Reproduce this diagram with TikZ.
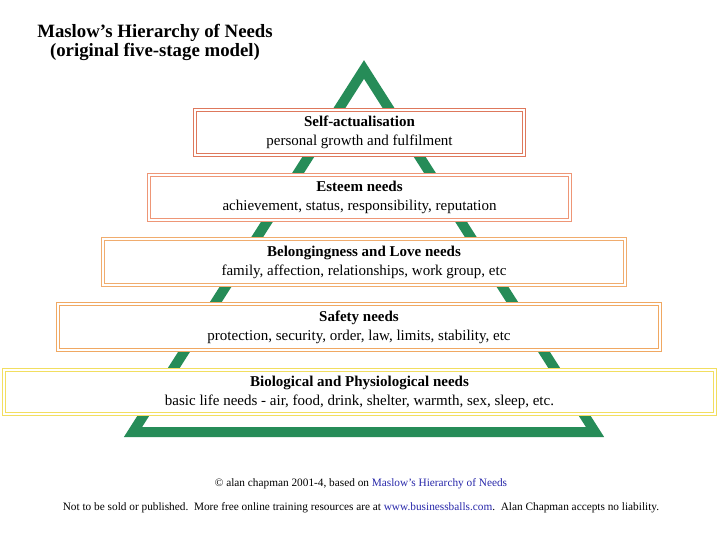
\documentclass[tikz,border=0pt]{standalone}
\usepackage{fontspec}
\setmainfont{Liberation Serif}
\definecolor{tri}{RGB}{38,140,88}
\definecolor{cA}{RGB}{222,120,92}
\definecolor{cB}{RGB}{238,150,118}
\definecolor{cC}{RGB}{240,172,110}
\definecolor{cD}{RGB}{240,168,98}
\definecolor{cE}{RGB}{242,222,96}
\definecolor{lnk}{RGB}{40,40,170}
\begin{document}
\begin{tikzpicture}[x=1pt,y=-1pt,
  level/.style={draw=#1, double=white, double distance=2.2, line width=1.1, fill=white,
    inner sep=0pt, align=center, font=\fontsize{15}{19}\selectfont},
  ttl/.style={font=\fontsize{18.8}{19}\selectfont\bfseries, align=center},
  foot/.style={font=\fontsize{11.3}{12}\selectfont, anchor=base}]
\useasboundingbox (0,0) rectangle (720,540);
\fill[white] (0,0) rectangle (720,540);
\node[ttl] (title) at (155,42) {Maslow’s Hierarchy of Needs\\(original five-stage model)};
% triangle
\coordinate (apex) at (364,69.5);
\coordinate (bl) at (133,432);
\coordinate (br) at (595,432);
\draw[tri, line width=10, line join=miter] (apex) -- (bl) -- (br) -- cycle;
% levels
\node[level=cA, minimum width=329, minimum height=45] (l1) at (359.5,132.5)
  {\textbf{Self-actualisation}\\personal growth and fulfilment};
\node[level=cB, minimum width=421, minimum height=45] (l2) at (359.5,197.5)
  {\textbf{Esteem needs}\\achievement, status, responsibility, reputation};
\node[level=cC, minimum width=522, minimum height=46] (l3) at (364,262)
  {\textbf{Belongingness and Love needs}\\family, affection, relationships, work group, etc};
\node[level=cD, minimum width=602, minimum height=46] (l4) at (359,327)
  {\textbf{Safety needs}\\protection, security, order, law, limits, stability, etc};
\node[level=cE, minimum width=711, minimum height=44] (l5) at (359.5,392)
  {\textbf{Biological and Physiological needs}\\basic life needs - air, food, drink, shelter, warmth, sex, sleep, etc.};
% footer
\node[foot] (f1) at (361,486.5) {© alan chapman 2001-4, based on \textcolor{lnk}{Maslow’s Hierarchy of Needs}};
\node[foot] (f2) at (361,510.5) {Not to be sold or published.\ \ More free online training resources are at \textcolor{lnk}{www.businessballs.com}.\ \ Alan Chapman accepts no liability.};
\end{tikzpicture}
\end{document}
